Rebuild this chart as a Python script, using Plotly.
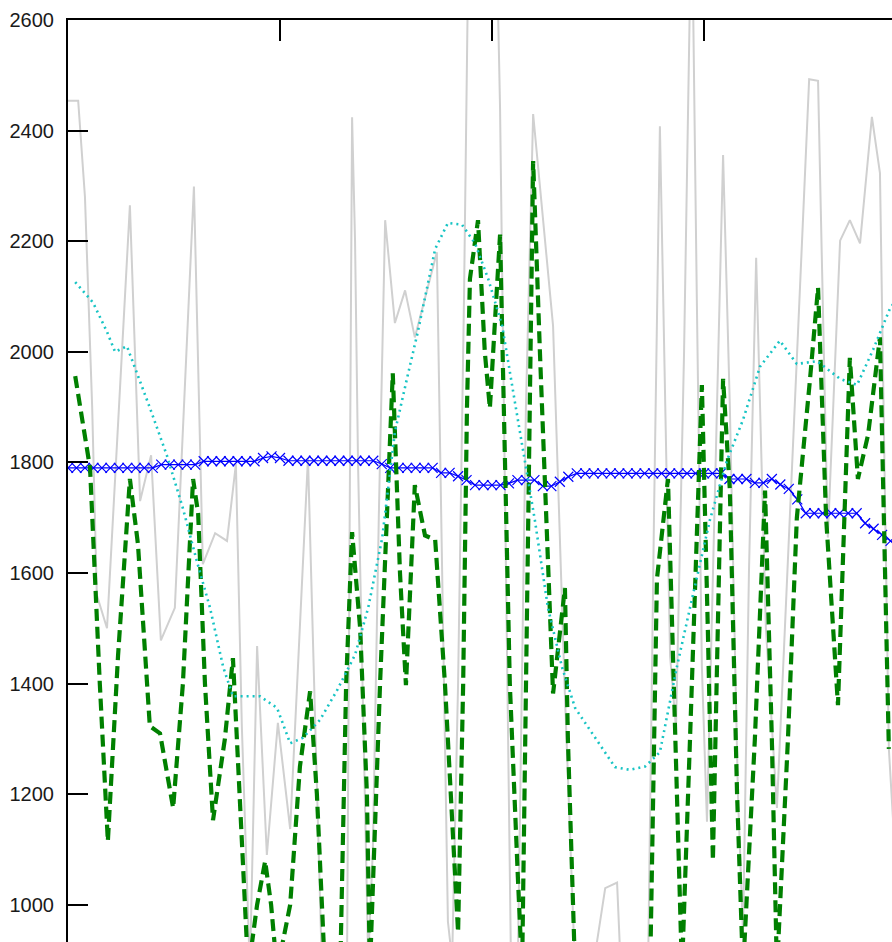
import plotly.graph_objects as go

# ---------------- data (sample index units) ----------------
raw_x = [0.0, 2.4, 4.0, 5.7, 6.8, 9.2, 14.6, 17.0, 19.6, 21.9, 25.2, 29.7, 31.8, 34.7,
         37.5, 39.6, 41.0, 42.2, 42.9, 44.6, 46.9, 49.5, 52.4, 56.6, 58.7, 59.9, 63.0,
         65.8, 67.0, 67.7, 68.4, 69.6, 70.8, 71.9, 73.3, 74.8, 77.1, 79.5, 81.8, 87.0,
         89.6, 90.6, 92.0, 93.4, 94.3, 97.2, 101.2, 101.9, 102.8, 103.8, 104.5, 106.1,
         108.0, 109.7, 114.4, 117.2, 119.6, 123.1, 126.7, 129.5, 130.4, 136.8, 138.2,
         139.6, 140.6, 142.0, 143.4, 145.3, 146.7, 147.4, 148.3, 149.5, 150.7, 152.1,
         154.5, 156.1, 158.0, 159.2, 160.6, 162.3, 164.6, 167.2, 170.3, 173.1, 174.8,
         176.9, 179.2, 182.1, 184.4, 186.8, 189.6, 191.5, 193.6, 195.0]
raw_y = [2454, 2454, 2280, 1900, 1560, 1500, 2265, 1730, 1813, 1478, 1537, 2299, 1616, 1672,
         1658, 1797, 1323, 1057, 880, 1468, 1090, 1329, 1137, 1808, 1200, 880, 820,
         880, 2424, 2200, 1800, 1350, 900, 1100, 1700, 2238, 2052, 2111, 2026, 2180,
         970, 900, 1400, 2100, 2650, 2720, 2700, 2440, 1900, 1300, 880, 900,
         1900, 2430, 2047, 1378, 880, 850, 1030, 1040, 880, 880, 1700,
         2408, 2000, 1450, 1320, 2000, 2650, 2650, 2100, 1430, 1150, 1600,
         2356, 1900, 1200, 950, 1600, 2170, 1500, 1175, 1700, 2196, 2493,
         2490, 1664, 2201, 2238, 2196, 2425, 2323, 1282, 1100]

filt_x = [1.7, 2.8, 5.2, 7.5, 9.4, 11.8, 14.6, 16.5, 19.3, 21.7, 24.8, 27.1, 29.5, 30.7,
          32.3, 34.2, 37.0, 38.9, 40.1, 42.5, 44.6, 46.5, 47.9, 49.3, 52.4, 54.7, 57.1,
          58.7, 60.6, 64.2, 65.6, 67.0, 68.9, 70.5, 71.2, 73.6, 76.6, 78.3, 79.7, 81.8,
          84.2, 86.6, 88.9, 92.0, 93.2, 94.1, 94.8, 96.7, 98.3, 99.5, 101.9, 103.1,
          104.2, 106.1, 107.1, 108.2, 109.7, 111.3, 113.2, 114.4, 117.2, 117.9, 119.6,
          125.5, 128.5, 130.2, 137.3, 138.9, 141.5, 143.4, 144.8, 146.7, 149.5, 150.9,
          152.1, 154.5, 156.1, 157.8, 159.2, 162.0, 164.4, 166.0, 167.2, 169.8, 171.9,
          175.0, 176.9, 178.8, 181.6, 184.4, 186.3, 188.7, 191.5, 193.6]
filt_y = [1956, 1900, 1790, 1400, 1115, 1450, 1770, 1652, 1323, 1310, 1175, 1400, 1770, 1707,
          1400, 1153, 1300, 1446, 1250, 880, 1000, 1079, 1000, 880, 1000, 1250, 1386,
          1200, 880, 880, 1400, 1674, 1500, 1200, 880, 1400, 1961, 1600, 1397, 1759,
          1668, 1660, 1400, 950, 1400, 1900, 2132, 2238, 2000, 1898, 2212, 1800,
          1400, 1050, 880, 1500, 2345, 2000, 1589, 1382, 1573, 1300, 880,
          880, 900, 880, 880, 1589, 1770, 1300, 880, 1300, 1940, 1500,
          1080, 1951, 1750, 1200, 880, 1300, 1749, 1300, 880, 1300, 1700,
          1950, 2116, 1700, 1361, 1989, 1770, 1850, 2026, 1282]

smooth_x = [1.7, 5.9, 9.2, 11.1, 13.9, 16.3, 19.3, 23.3, 27.1, 30.4, 33.5, 36.6, 38.9, 45.3,
            49.3, 52.4, 55.4, 59.4, 63.4, 67.7, 70.8, 74.1, 77.1, 80.2, 82.5, 86.6, 89.6,
            92.9, 96.0, 99.1, 102.4, 105.4, 107.8, 110.1, 113.2, 116.5, 119.6, 124.3,
            129.0, 132.5, 136.1, 139.6, 143.6, 146.7, 151.4, 155.4, 159.2, 163.2, 167.9,
            171.9, 176.7, 182.1, 186.1, 189.9, 193.9, 195.0]
smooth_y = [2126, 2089, 2036, 2000, 2010, 1962, 1899, 1813, 1717, 1621, 1537, 1430, 1377, 1377,
            1356, 1292, 1302, 1334, 1387, 1452, 1537, 1663, 1855, 1960, 2036, 2186, 2233,
            2230, 2196, 2132, 2047, 1909, 1803, 1696, 1537, 1430, 1356, 1302,
            1249, 1244, 1250, 1276, 1430, 1537, 1696, 1803, 1877, 1973, 2020,
            1978, 1983, 1951, 1940, 2004, 2079, 2090]

trend_x = list(range(0, 198, 2))
trend_y = [1790, 1790, 1790, 1790, 1790, 1790, 1790, 1790, 1790, 1790, 1790,
           1796, 1796, 1796, 1796, 1796,
           1802, 1802, 1802, 1802, 1802, 1802, 1802,
           1808, 1811, 1808,
           1803, 1803, 1803, 1803, 1803, 1803, 1803, 1803, 1803, 1803, 1803,
           1797,
           1790, 1790, 1790, 1790, 1790, 1790,
           1781, 1781,
           1775, 1768,
           1759, 1759, 1759, 1759,
           1762,
           1768, 1768, 1768,
           1757, 1757,
           1765, 1774,
           1780, 1780, 1780, 1780, 1780, 1780, 1780, 1780, 1780, 1780, 1780,
           1780, 1780, 1780, 1780, 1780, 1780, 1780,
           1770, 1770, 1770,
           1763, 1763,
           1770, 1760, 1752, 1733,
           1708, 1708, 1708, 1708, 1708, 1708, 1708,
           1690, 1680, 1669, 1658, 1650]

x_ticks = [50, 100, 150]
y_ticks = [1000, 1200, 1400, 1600, 1800, 2000, 2200, 2400, 2600]

# ---------------- figure ----------------
fig = go.Figure()
fig.add_trace(go.Scatter(x=raw_x, y=raw_y, mode="lines",
                         line=dict(color="#d0d0d0", width=2), hoverinfo="skip"))
fig.add_trace(go.Scatter(x=trend_x, y=trend_y, mode="lines+markers",
                         line=dict(color="#0000ff", width=1.2),
                         marker=dict(symbol="x-thin", size=10,
                                     line=dict(color="#0000ff", width=1.2))))
fig.add_trace(go.Scatter(x=filt_x, y=filt_y, mode="lines",
                         line=dict(color="#008000", width=4.2, dash="12px,6px")))
fig.add_trace(go.Scatter(x=smooth_x, y=smooth_y, mode="lines",
                         line=dict(color="#17c4c4", width=2.6, dash="2px,4px")))

fig.update_layout(
    width=892, height=942,
    margin=dict(l=68, r=0, t=20, b=0, pad=0),
    paper_bgcolor="white", plot_bgcolor="white",
    showlegend=False,
    font=dict(family="Liberation Sans, Arial, sans-serif", size=20, color="#1a1a1a"),
    xaxis=dict(range=[0, 194.34], side="top", showline=True, linecolor="black",
               linewidth=2, ticks="inside", ticklen=21, tickwidth=2,
               tickcolor="black", tickvals=x_ticks, showticklabels=False,
               showgrid=False, zeroline=False),
    yaxis=dict(range=[932.7, 2600], showline=True, linecolor="black",
               linewidth=2, ticks="inside", ticklen=20, tickwidth=2,
               tickcolor="black", tickvals=y_ticks, showgrid=False,
               zeroline=False, ticklabelstandoff=8),
)

fig.write_html("out.html")
